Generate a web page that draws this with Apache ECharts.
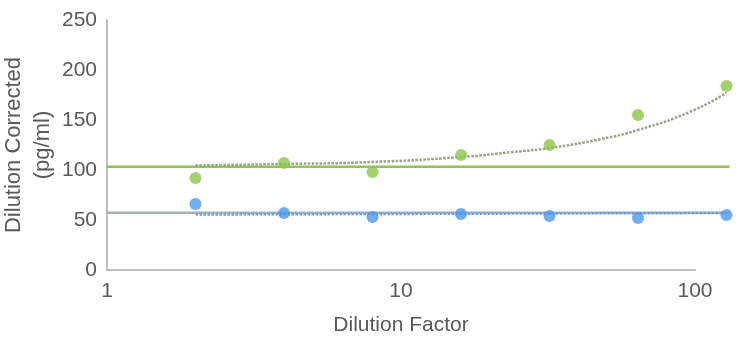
<!DOCTYPE html>
<html><head><meta charset="utf-8">
<script src="https://cdn.jsdelivr.net/npm/echarts@6/dist/echarts.min.js"></script>
<style>html,body{margin:0;padding:0;background:#fff}#c{width:739px;height:340px}</style>
</head><body><div id="c"></div>
<script>
const dilutions = [2, 4, 8, 16, 32, 64, 128];
const greenValues = [92, 107, 98, 115, 125, 155, 184];
const blueValues = [66, 57, 53, 56, 54, 52, 55];
const greenTrendX = [2, 4, 8, 16, 24, 32, 48, 64, 96, 128];
const greenTrendY = [104.5, 106, 108, 113, 118, 122, 131, 140, 158, 177];
const blueTrendX = [2, 128];
const blueTrendY = [55.5, 57];
const refLineX = [1, 131];
const greenRef = [103.3, 103.3];
const greyRef = [57.3, 57.3];
const xTicks = [1, 10, 100];
const yTicks = [0, 50, 100, 150, 200, 250];
const plotMaxX = 131;

const zip = (a, b) => a.map((v, i) => [v, b[i]]);
const font = 'Liberation Sans';
const txt = '#595959';
// pixel layout: x=1 at 107px, one decade = 294px
const left = 107, decade = 294, W = 739;
const rightVisible = W - (left + decade * Math.log10(xTicks[xTicks.length - 1]));
const rightData = W - (left + decade * Math.log10(plotMaxX));

const chart = echarts.init(document.getElementById('c'));
chart.setOption({
  animation: false,
  textStyle: {fontFamily: font},
  grid: [
    {left: left, top: 20, right: rightVisible, bottom: 70, outerBoundsMode: 'none'},
    {left: left, top: 20, right: rightData, bottom: 70, outerBoundsMode: 'none'}
  ],
  xAxis: [{
    gridIndex: 0, type: 'log', logBase: 10, min: xTicks[0], max: xTicks[xTicks.length - 1],
    name: 'Dilution Factor', nameLocation: 'middle', nameGap: 45, nameMoveOverlap: false,
    nameTextStyle: {color: txt, fontSize: 21, fontFamily: font},
    axisLine: {show: true, lineStyle: {color: '#bfbfbf', width: 2}},
    axisTick: {show: false}, splitLine: {show: false}, minorTick: {show: false},
    axisLabel: {color: txt, fontSize: 21, margin: 11, fontFamily: font,
      formatter: v => String(Math.round(v))}
  }, {
    gridIndex: 1, type: 'log', logBase: 10, min: xTicks[0], max: plotMaxX, show: false
  }],
  yAxis: [{
    gridIndex: 0, type: 'value', min: yTicks[0], max: yTicks[yTicks.length - 1], interval: 50,
    name: 'Dilution Corrected\n(pg/ml)', nameLocation: 'middle', nameGap: 50, nameRotate: 90,
    nameMoveOverlap: false,
    nameTextStyle: {color: txt, fontSize: 22, fontFamily: font, lineHeight: 29},
    axisLine: {show: true, lineStyle: {color: '#bfbfbf', width: 2}},
    axisTick: {show: false}, splitLine: {show: false},
    axisLabel: {color: txt, fontSize: 21, margin: 10, fontFamily: font}
  }, {
    gridIndex: 1, type: 'value', min: yTicks[0], max: yTicks[yTicks.length - 1], show: false
  }],
  series: [
    {type: 'line', xAxisIndex: 1, yAxisIndex: 1, data: zip(refLineX, greyRef), symbol: 'none',
      lineStyle: {color: '#a9b0b8', width: 2.5}, z: 1},
    {type: 'line', xAxisIndex: 1, yAxisIndex: 1, data: zip(refLineX, greenRef), symbol: 'none',
      lineStyle: {color: '#93c15e', width: 2.5}, z: 1},
    {type: 'line', xAxisIndex: 1, yAxisIndex: 1, data: zip(blueTrendX, blueTrendY), symbol: 'none',
      lineStyle: {color: '#6c9fdc', width: 2.5, type: [2.5, 1.5]}, z: 2},
    {type: 'line', xAxisIndex: 1, yAxisIndex: 1, data: zip(greenTrendX, greenTrendY), symbol: 'none', smooth: true,
      lineStyle: {color: '#97a385', width: 2.5, type: [2.5, 1.5]}, z: 2},
    {type: 'scatter', xAxisIndex: 1, yAxisIndex: 1, data: zip(dilutions, greenValues), symbolSize: 12, clip: false,
      itemStyle: {color: '#8cc54a'}, z: 3},
    {type: 'scatter', xAxisIndex: 1, yAxisIndex: 1, data: zip(dilutions, blueValues), symbolSize: 12, clip: false,
      itemStyle: {color: '#4d98ea'}, z: 3}
  ]
});
</script></body></html>
